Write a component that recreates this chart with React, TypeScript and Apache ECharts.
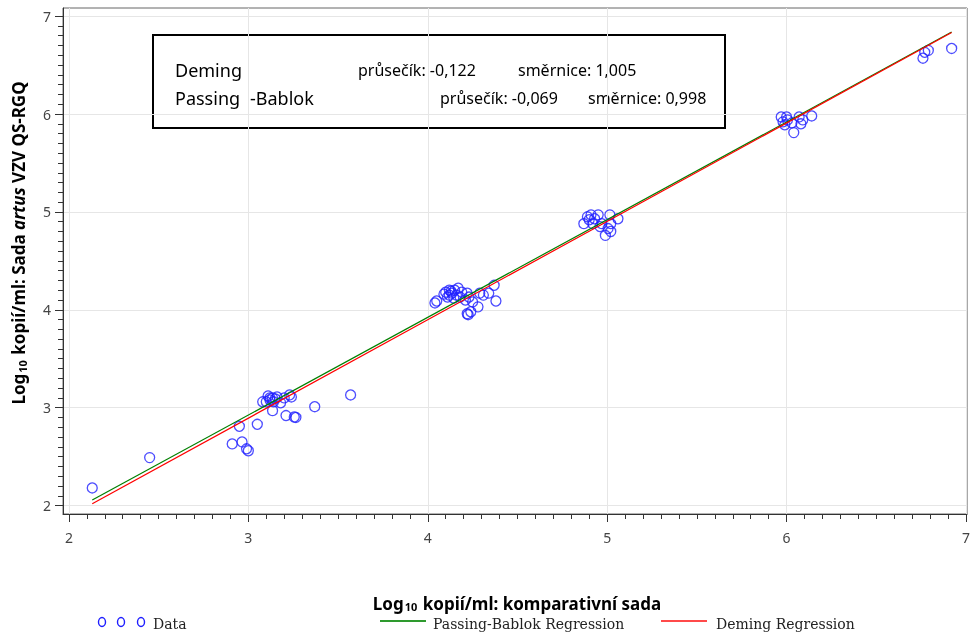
import React, { useEffect, useRef } from "react";
import * as echarts from "echarts";

// ---- data (log10 copies/ml) ----
const comparativeKit: number[] = [
  2.13, 2.45, 2.91, 2.965, 2.99, 3.0, 2.95, 3.05, 3.135, 3.21, 3.256, 3.265, 3.37, 3.57,
  3.08, 3.1, 3.11, 3.12, 3.135, 3.14, 3.16, 3.18, 3.2, 3.23, 3.24, 3.12, 3.15,
  4.04, 4.05, 4.1, 4.12, 4.135, 4.11, 4.145, 4.17, 4.16, 4.19, 4.22, 4.23, 4.21, 4.25,
  4.29, 4.31, 4.34, 4.37, 4.38, 4.28, 4.24, 4.22, 4.225, 4.09, 4.13, 4.15, 4.12, 4.18,
  4.87, 4.89, 4.91, 4.9, 4.93, 4.95, 4.92, 5.015, 5.06, 5.02, 5.005, 5.02, 4.99, 4.96, 4.97,
  5.97, 5.98, 6.0, 6.005, 5.99, 6.03, 6.04, 6.07, 6.08, 6.09, 6.14,
  6.77, 6.76, 6.79, 6.92,
];
const artusKit: number[] = [
  2.18, 2.49, 2.63, 2.65, 2.58, 2.56, 2.81, 2.83, 2.97, 2.92, 2.905, 2.9, 3.01, 3.13,
  3.06, 3.06, 3.12, 3.08, 3.1, 3.06, 3.11, 3.05, 3.1, 3.13, 3.11, 3.1, 3.09,
  4.07, 4.09, 4.18, 4.2, 4.17, 4.13, 4.12, 4.22, 4.15, 4.18, 4.17, 4.13, 4.1, 4.08,
  4.17, 4.15, 4.17, 4.25, 4.09, 4.03, 3.98, 3.96, 3.95, 4.16, 4.19, 4.2, 4.15, 4.13,
  4.88, 4.95, 4.97, 4.92, 4.93, 4.97, 4.88, 4.97, 4.93, 4.88, 4.83, 4.8, 4.76, 4.85, 4.88,
  5.97, 5.92, 5.97, 5.94, 5.89, 5.91, 5.81, 5.97, 5.9, 5.94, 5.98,
  6.63, 6.57, 6.65, 6.67,
];

// regression coefficients [intercept, slope]
const deming: number[] = [-0.122, 1.005];
const passingBablok: number[] = [-0.069, 0.998];

const demingLabels: string[] = ["Deming", "průsečík: -0,122", "směrnice: 1,005"];
const pbLabels: string[] = ["Passing", "-Bablok", "průsečík: -0,069", "směrnice: 0,998"];

const majorTicks: number[] = [2, 3, 4, 5, 6, 7];
const legendNames: string[] = ["Data", "Passing-Bablok Regression", "Deming Regression"];

const FONT = "Noto Sans";

export default function App() {
  const ref = useRef<HTMLDivElement>(null);
  useEffect(() => {
    if (!ref.current) return;
    const chart = echarts.init(ref.current, null, { renderer: "svg" });

    const points = comparativeKit.map((x, i) => [x, artusKit[i]]);
    const xLo = Math.min(...comparativeKit);
    const xHi = Math.max(...comparativeKit);
    const lineData = (c: number[]) => [
      [xLo, c[0] + c[1] * xLo],
      [xHi, c[0] + c[1] * xHi],
    ];
    const minor: number[] = [];
    for (let i = 0; i <= 50; i++) minor.push(Math.round((2 + i / 10) * 10) / 10);

    const XMIN = 1.967, XMAX = 7.006, YMIN = 1.914, YMAX = 7.083;

    const majorAxis = (min: number, max: number, isX: boolean) => ({
      type: "value",
      min,
      max,
      position: isX ? "bottom" : "left",
      axisLine: { show: true, onZero: false, lineStyle: { color: "#333", width: 1 } },
      axisTick: { show: true, customValues: majorTicks, length: 8, lineStyle: { color: "#333" } },
      axisLabel: {
        customValues: majorTicks,
        margin: isX ? 16 : 12,
        fontSize: 14,
        color: "#444",
        fontFamily: FONT,
      },
      splitLine: { show: true, lineStyle: { color: "#e6e6e6", width: 1 } },
    });
    const minorAxis = (min: number, max: number, isX: boolean) => ({
      type: "value",
      min,
      max,
      position: isX ? "bottom" : "left",
      axisLine: { show: false, onZero: false },
      axisTick: { show: true, customValues: minor, length: 5, lineStyle: { color: "#333" } },
      axisLabel: { show: false },
      splitLine: { show: false },
    });

    const boxText = (text: string, x: number, y: number, size = 18) => ({
      type: "text",
      x,
      y,
      style: { text, fontSize: size, fontFamily: FONT, fill: "#000", verticalAlign: "middle" },
    });

    const legY = 624;
    chart.setOption({
      animation: false,
      grid: { left: 63, right: 3, top: 8, bottom: 121, show: true, borderColor: "#666", borderWidth: 1 },
      xAxis: [majorAxis(XMIN, XMAX, true), minorAxis(XMIN, XMAX, true)],
      yAxis: [majorAxis(YMIN, YMAX, false), minorAxis(YMIN, YMAX, false)],
      series: [
        {
          name: legendNames[0],
          type: "scatter",
          data: points,
          symbol: "circle",
          symbolSize: 10,
          itemStyle: { color: "rgba(0,0,0,0)", borderColor: "#1f1fff", borderWidth: 1.3 },
          z: 2,
        },
        {
          name: legendNames[1],
          type: "line",
          data: lineData(passingBablok),
          showSymbol: false,
          lineStyle: { color: "#008000", width: 1.2 },
          z: 3,
        },
        {
          name: legendNames[2],
          type: "line",
          data: lineData(deming),
          showSymbol: false,
          lineStyle: { color: "#ff0000", width: 1.2 },
          z: 4,
        },
      ],
      graphic: [
        // statistics box
        {
          type: "rect",
          shape: { x: 153, y: 35, width: 572, height: 93 },
          style: { fill: "none", stroke: "#000", lineWidth: 2 },
        },
        boxText(demingLabels[0], 175, 70),
        boxText(demingLabels[1], 358, 70, 16),
        boxText(demingLabels[2], 518, 70, 16),
        boxText(pbLabels[0], 175, 98),
        boxText(pbLabels[1], 250, 98),
        boxText(pbLabels[2], 440, 98, 16),
        boxText(pbLabels[3], 588, 98, 16),
        // axis titles
        {
          type: "text",
          x: 517,
          y: 603,
          style: {
            text: "{a|Log}{s|10}{a| kopií/ml: komparativní sada}",
            align: "center",
            verticalAlign: "middle",
            fill: "#000",
            rich: {
              a: { fontSize: 17, fontWeight: "bold", fontFamily: FONT, fill: "#000", lineHeight: 20 },
              s: { fontSize: 11, fontWeight: "bold", fontFamily: FONT, fill: "#000", lineHeight: 20, padding: [6, 1, 0, 1] },
            },
          },
        },
        {
          type: "text",
          x: 18,
          y: 243,
          rotation: Math.PI / 2,
          style: {
            text: "{a|Log}{s|10}{a| kopií/ml: Sada }{i|artus}{a| VZV QS-RGQ}",
            align: "center",
            verticalAlign: "middle",
            fill: "#000",
            rich: {
              a: { fontSize: 17, fontWeight: "bold", fontFamily: FONT, fill: "#000" },
              i: { fontSize: 17, fontWeight: "bold", fontStyle: "italic", fontFamily: FONT, fill: "#000" },
              s: { fontSize: 11, fontWeight: "bold", fontFamily: FONT, fill: "#000", padding: [9, 1, 0, 1] },
            },
          },
        },
        // bottom legend
        ...[102, 121, 141].map((cx) => ({
          type: "ellipse",
          shape: { cx, cy: legY - 2, rx: 3.5, ry: 4.5 },
          style: { fill: "none", stroke: "#1f1fff", lineWidth: 1.4 },
        })),
        {
          type: "text",
          x: 153,
          y: legY,
          style: { text: legendNames[0], fontSize: 14, fontFamily: "DejaVu Serif", fill: "#222", verticalAlign: "middle" },
        },
        {
          type: "line",
          shape: { x1: 380, y1: legY - 3, x2: 426, y2: legY - 3 },
          style: { stroke: "#2e9a2e", lineWidth: 2 },
        },
        {
          type: "text",
          x: 433,
          y: legY,
          style: { text: legendNames[1], fontSize: 14, fontFamily: "DejaVu Serif", fill: "#222", verticalAlign: "middle" },
        },
        {
          type: "line",
          shape: { x1: 661, y1: legY - 3, x2: 707, y2: legY - 3 },
          style: { stroke: "#ff4a4a", lineWidth: 2 },
        },
        {
          type: "text",
          x: 716,
          y: legY,
          style: { text: legendNames[2], fontSize: 14, fontFamily: "DejaVu Serif", fill: "#222", verticalAlign: "middle" },
        },
      ],
    });
    return () => chart.dispose();
  }, []);
  return <div ref={ref} style={{ position: "fixed", left: 0, top: 0, width: 973, height: 635 }} />;
}
